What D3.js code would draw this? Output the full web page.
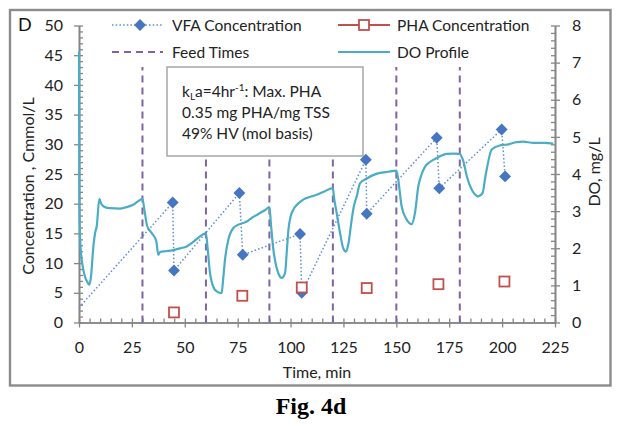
<!DOCTYPE html>
<html>
<head>
<meta charset="utf-8">
<script src="https://cdn.jsdelivr.net/npm/d3@7"></script>
<style>
  html, body { margin: 0; padding: 0; background: #fff; }
  svg { display: block; }
  text { font-family: Lato, "Open Sans", sans-serif; }
</style>
</head>
<body>
<svg id="chart" width="621" height="429"></svg>
<script>
// ---------------- data ----------------
const timeTicks = [0, 25, 50, 75, 100, 125, 150, 175, 200, 225];
const concTicks = [0, 5, 10, 15, 20, 25, 30, 35, 40, 45, 50];
const doTicks = [0, 1, 2, 3, 4, 5, 6, 7, 8];

const vfaTime = [0, 44.3, 44.9, 75.8, 77.4, 104.5, 105.3, 135.6, 136.0, 169.1, 170.3, 199.8, 201.4];
const vfaConc = [2.5, 20.2, 8.75, 21.8, 11.4, 14.9, 5.0, 27.4, 18.3, 31.1, 22.6, 32.5, 24.6];

const phaTime = [44.9, 77.2, 105.3, 136.0, 169.9, 201.1];
const phaConc = [1.7, 4.5, 5.9, 5.8, 6.45, 6.9];

const feedTimes = [30, 60, 90, 120, 150, 180];
const feedTop = 43;

const doTime = [
  0, 0.1, 0.2, 0.5, 0.9, 1.8, 2.8, 4.0, 4.9, 5.6, 6.8, 7.6, 8.4, 9.6, 10.5, 12.5, 14.6, 19.4, 22, 25.6, 28, 30,
  31, 32.2, 34.5, 36.5, 37.5, 38.3, 41, 44.6, 48, 50.9, 54, 57.2, 60,
  60.8, 62, 62.7, 64, 65.1, 67.4, 68.2, 69, 70.6, 72.9, 76, 79.3, 82, 85.6, 88, 90,
  90.8, 91.8, 92.6, 94.2, 95.8, 97.4, 98.2, 99, 100, 101.3, 103.5, 106, 109, 112.4, 116, 120,
  120.6, 121.8, 123.4, 124.9, 126.2, 127.3, 128.9, 130, 131.3, 132.8, 136, 139, 142.3, 146, 150,
  150.9, 152.5, 154.9, 157.3, 158.8, 160.4, 162, 163.6, 166, 169.1, 173.8, 177, 180,
  181, 181.7, 183.3, 185.6, 187.2, 188.7, 190.8, 192, 192.7, 195.1, 199, 203, 206.9, 210, 214.8, 220, 224.2
];
const doValue = [
  7.3, 5.0, 3.2, 2.3, 1.9, 1.5, 1.24, 1.08, 1.02, 1.2, 2.05, 2.41, 2.6, 3.33, 3.2, 3.1, 3.08, 3.07, 3.1, 3.17, 3.27, 3.33,
  3.0, 2.6, 2.4, 2.2, 1.82, 1.9, 1.92, 1.95, 2.0, 2.05, 2.17, 2.32, 2.41,
  2.0, 1.3, 1.1, 0.9, 0.84, 0.79, 1.2, 1.69, 2.23, 2.54, 2.65, 2.72, 2.83, 2.95, 3.03, 3.11,
  2.6, 2.0, 1.69, 1.33, 1.2, 1.33, 1.9, 2.5, 2.85, 3.04, 3.2, 3.31, 3.38, 3.44, 3.53, 3.62,
  3.35, 2.95, 2.41, 2.0, 1.91, 2.1, 2.77, 3.15, 3.4, 3.75, 3.88, 3.97, 4.03, 4.06, 4.09,
  3.85, 3.13, 2.77, 2.65, 2.95, 3.67, 4.0, 4.2, 4.33, 4.43, 4.54, 4.55, 4.54,
  4.45, 4.34, 3.94, 3.58, 3.45, 3.4, 3.49, 3.9, 4.12, 4.66, 4.77, 4.8, 4.86, 4.87, 4.84, 4.84, 4.82
];

const legendLabels = ["VFA Concentration", "PHA Concentration", "Feed Times", "DO Profile"];
const noteLines = ["0.35 mg PHA/mg TSS", "49% HV (mol basis)"];

// ---------------- colours ----------------
const cBlue = "#4675C2", cBlueLine = "#5C8DD3", cRed = "#C0504D", cTeal = "#4BACC6", cPurple = "#8064A2", cAxis = "#868686", cText = "#222";

const svg = d3.select("#chart");
svg.append("rect").attr("x", 0).attr("y", 0).attr("width", 621).attr("height", 429).attr("fill", "#fff");
// outer frame
svg.append("rect").attr("x", 10).attr("y", 10).attr("width", 600.5).attr("height", 375.5)
  .attr("fill", "none").attr("stroke", "#8c8c8c").attr("stroke-width", 2.4);

const x = d3.scaleLinear().domain([0, 225]).range([79, 555]);
const yL = d3.scaleLinear().domain([0, 50]).range([322.5, 25.5]);
const yR = d3.scaleLinear().domain([0, 8]).range([322.5, 25.5]);

// ---------------- axes ----------------
function styleAxis(g) {
  g.selectAll(".domain").attr("stroke", cAxis).attr("stroke-width", 1.6);
  g.selectAll(".tick line").attr("stroke", cAxis).attr("stroke-width", 1.3);
  g.selectAll(".tick text").attr("fill", cText).style("font-size", "16px").style("font-family", "Lato, sans-serif");
}
// left
const gL = svg.append("g").attr("transform", "translate(79,0)");
gL.call(d3.axisLeft(yL).tickValues(concTicks).tickSizeInner(5).tickSizeOuter(0).tickPadding(11));
styleAxis(gL);
const gLm = svg.append("g").attr("transform", "translate(79,0)");
gLm.call(d3.axisRight(yL).tickValues(d3.range(0, 51, 1)).tickSizeInner(4).tickSizeOuter(0).tickFormat(""));
styleAxis(gLm);
// right
const gR = svg.append("g").attr("transform", "translate(555,0)");
gR.call(d3.axisRight(yR).tickValues(doTicks).tickSizeInner(5).tickSizeOuter(0).tickPadding(12));
styleAxis(gR);
const gRm = svg.append("g").attr("transform", "translate(555,0)");
gRm.call(d3.axisLeft(yR).tickValues(d3.range(0, 8.01, 0.2)).tickSizeInner(4).tickSizeOuter(0).tickFormat(""));
styleAxis(gRm);
// bottom
const gB = svg.append("g").attr("transform", "translate(0,322.5)");
gB.call(d3.axisBottom(x).tickValues(timeTicks).tickSizeInner(5).tickSizeOuter(0).tickPadding(14));
styleAxis(gB);
const gBm = svg.append("g").attr("transform", "translate(0,322.5)");
gBm.call(d3.axisTop(x).tickValues(d3.range(0, 226, 5)).tickSizeInner(4).tickSizeOuter(0).tickFormat(""));
styleAxis(gBm);

// axis titles
svg.append("text").attr("transform", "translate(34,186) rotate(-90)").attr("text-anchor", "middle")
  .attr("fill", cText).style("font-size", "16px").text("Concentration , Cmmol/L");
svg.append("text").attr("transform", "translate(600,172) rotate(-90)").attr("text-anchor", "middle")
  .attr("fill", cText).style("font-size", "16px").text("DO, mg/L");
svg.append("text").attr("x", 317).attr("y", 378).attr("text-anchor", "middle")
  .attr("fill", cText).style("font-size", "16px").text("Time, min");
svg.append("text").attr("x", 18).attr("y", 31).attr("fill", "#111").style("font-size", "18px").text("D");

// ---------------- feed lines ----------------
svg.append("g").selectAll("line").data(feedTimes).join("line")
  .attr("x1", d => x(d)).attr("x2", d => x(d))
  .attr("y1", yL(0)).attr("y2", yL(feedTop))
  .attr("stroke", cPurple).attr("stroke-width", 2).attr("stroke-dasharray", "7,5");

// annotation box
const box = svg.append("g");
box.append("rect").attr("x", 167).attr("y", 67).attr("width", 196).attr("height", 89)
  .attr("fill", "#fff").attr("stroke", "#a6a6a6").attr("stroke-width", 1.5);
const t1 = box.append("text").attr("x", 182).attr("y", 97).attr("fill", cText).style("font-size", "15.5px");
t1.append("tspan").text("k");
t1.append("tspan").attr("dy", 3).style("font-size", "10px").text("L");
t1.append("tspan").attr("dy", -3).text("a=4hr");
t1.append("tspan").attr("dy", -6).style("font-size", "10px").text("-1");
t1.append("tspan").attr("dy", 6).text(": Max. PHA");
box.selectAll("text.note").data(noteLines).join("text").attr("class", "note")
  .attr("x", 182).attr("y", (d, i) => 118 + i * 20.5).attr("fill", cText).style("font-size", "15.5px").text(d => d);

// ---------------- DO profile ----------------
const doData = doTime.map((t, i) => [t, doValue[i]]);
svg.append("path").datum(doData)
  .attr("d", d3.line().x(d => x(d[0])).y(d => yR(d[1])).curve(d3.curveMonotoneX))
  .attr("fill", "none").attr("stroke", cTeal).attr("stroke-width", 2.2);

// ---------------- VFA ----------------
const vfaData = vfaTime.map((t, i) => [t, vfaConc[i]]);
svg.append("path").datum(vfaData)
  .attr("d", d3.line().x(d => x(d[0])).y(d => yL(d[1])))
  .attr("fill", "none").attr("stroke", cBlueLine).attr("stroke-width", 1.5).attr("stroke-dasharray", "1.5,2.2");
const diamond = d3.symbol().type(d3.symbolDiamond2).size(90);
svg.append("g").selectAll("path").data(vfaData.slice(1)).join("path")
  .attr("d", diamond).attr("transform", d => `translate(${x(d[0])},${yL(d[1])})`)
  .attr("fill", cBlue);

// ---------------- PHA ----------------
const phaData = phaTime.map((t, i) => [t, phaConc[i]]);
svg.append("g").selectAll("rect").data(phaData).join("rect")
  .attr("x", d => x(d[0]) - 5).attr("y", d => yL(d[1]) - 5).attr("width", 10).attr("height", 10)
  .attr("fill", "#fff").attr("stroke", cRed).attr("stroke-width", 1.8);

// ---------------- legend ----------------
const lg = svg.append("g");
const legRows = [25, 52];
// VFA
lg.append("line").attr("x1", 112).attr("x2", 163).attr("y1", legRows[0]).attr("y2", legRows[0])
  .attr("stroke", cBlueLine).attr("stroke-width", 1.5).attr("stroke-dasharray", "1.5,2.2");
lg.append("path").attr("d", diamond).attr("transform", `translate(140,${legRows[0]})`).attr("fill", cBlue);
// Feed
lg.append("line").attr("x1", 112).attr("x2", 163).attr("y1", legRows[1]).attr("y2", legRows[1])
  .attr("stroke", cPurple).attr("stroke-width", 2).attr("stroke-dasharray", "7,5");
// PHA
lg.append("line").attr("x1", 338).attr("x2", 390).attr("y1", legRows[0]).attr("y2", legRows[0])
  .attr("stroke", cRed).attr("stroke-width", 1.8);
lg.append("rect").attr("x", 359).attr("y", legRows[0] - 5).attr("width", 10).attr("height", 10)
  .attr("fill", "#fff").attr("stroke", cRed).attr("stroke-width", 1.8);
// DO
lg.append("line").attr("x1", 338).attr("x2", 390).attr("y1", legRows[1]).attr("y2", legRows[1])
  .attr("stroke", cTeal).attr("stroke-width", 2.2);
const legPos = [[172, legRows[0]], [397, legRows[0]], [172, legRows[1]], [397, legRows[1]]];
lg.selectAll("text").data(legendLabels).join("text")
  .attr("x", (d, i) => legPos[i][0]).attr("y", (d, i) => legPos[i][1] + 5.5)
  .attr("fill", cText).style("font-size", "15.5px").text(d => d);

// caption
svg.append("text").attr("x", 311).attr("y", 414).attr("text-anchor", "middle")
  .style("font-family", "'Liberation Serif', 'Times New Roman', serif").style("font-weight", "bold")
  .style("font-size", "24px").attr("fill", "#000").text("Fig. 4d");
</script>
</body>
</html>
